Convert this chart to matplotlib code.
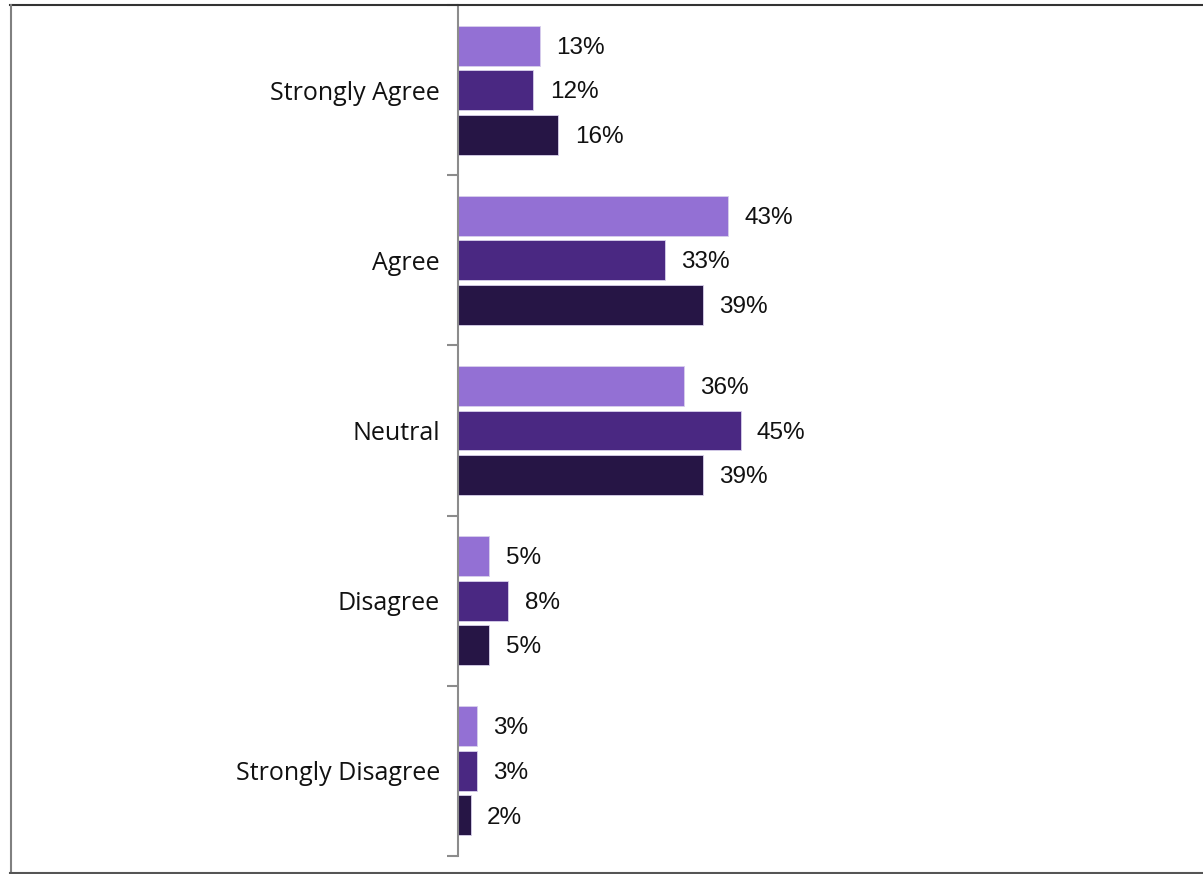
import matplotlib.pyplot as plt
from matplotlib.lines import Line2D
import numpy as np

# categories and the three series (percent)
categories = ["Strongly Agree", "Agree", "Neutral", "Disagree", "Strongly Disagree"]
series_a = [13, 43, 36, 5, 3]
series_b = [12, 33, 45, 8, 3]
series_c = [16, 39, 39, 5, 2]
colors = ["#9370d4", "#4a2882", "#261545"]

fig = plt.figure(figsize=(12.03, 8.74), dpi=100)
ax = fig.add_axes([458 / 1203, 1 - 856 / 874, 732 / 1203, 851 / 874])

y = np.arange(len(categories))
step = 0.262
height = 0.235
for i, (vals, col) in enumerate(zip([series_a, series_b, series_c], colors)):
    pos = y + (i - 1) * step
    ax.barh(pos, vals, height=height, color=col, edgecolor="#d8d0ec", linewidth=0.6)
    for p, v in zip(pos, vals):
        ax.text(v + 2.6, p + 0.012, f"{v}%", va="center", ha="left",
                fontsize=17.5, family="Liberation Sans", color="#111111")

ax.set_xlim(0, 116.6)
ax.set_ylim(len(categories) - 0.5, -0.5)
ax.set_xticks([])
ax.set_yticks(y)
ax.set_yticklabels(categories, fontsize=18, family="Open Sans", color="#111111")
ax.tick_params(axis="y", which="major", length=0, pad=13)
ax.set_yticks(np.arange(len(categories) + 1) - 0.5, minor=True)
ax.tick_params(axis="y", which="minor", length=8, width=1.5, color="#8c8c8c")
for s in ["top", "right", "bottom"]:
    ax.spines[s].set_visible(False)
ax.spines["left"].set_color("#8c8c8c")
ax.spines["left"].set_linewidth(1.5)

# outer frame
W, H = 1203, 874
fig.add_artist(Line2D([10 / W, 1], [1 - 5 / H, 1 - 5 / H], color="#333333", lw=1.5))
fig.add_artist(Line2D([11 / W, 11 / W], [1 - 5 / H, 1 - 873 / H], color="#808080", lw=1.5))
fig.add_artist(Line2D([10 / W, 1], [1 - 873 / H, 1 - 873 / H], color="#555555", lw=1.5))

fig.savefig("out.png", dpi=100)
